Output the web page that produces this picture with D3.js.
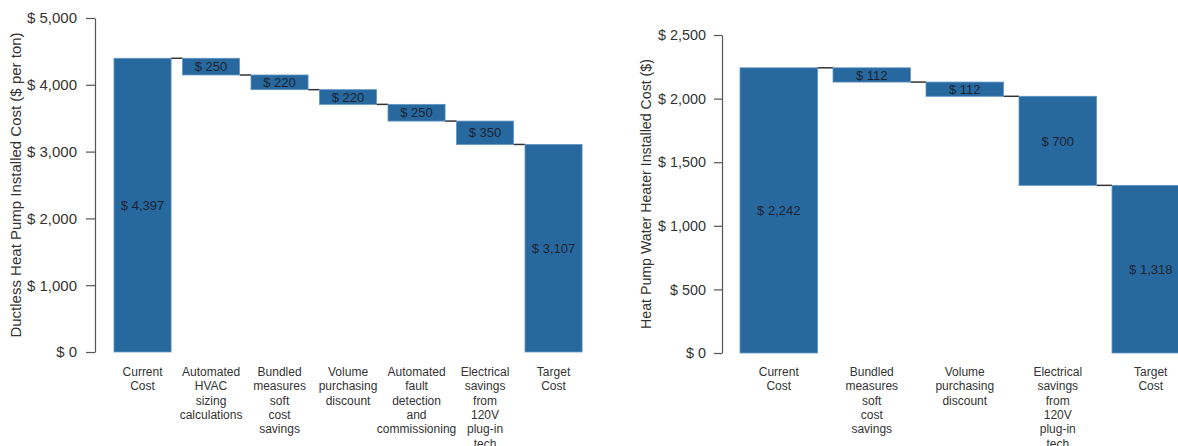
<!DOCTYPE html>
<html>
<head>
<meta charset="utf-8">
<script src="https://cdn.jsdelivr.net/npm/d3@7"></script>
<style>
  html, body { margin: 0; padding: 0; background: #ffffff; }
  svg { display: block; font-family: "Liberation Sans", Arial, Helvetica, sans-serif; }
</style>
</head>
<body>
<svg id="chart" width="1178" height="446"></svg>
<script>
// Ductless heat pump cost waterfall ($ per ton)
const ductlessCategories = [
  ["Current", "Cost"],
  ["Automated", "HVAC", "sizing", "calculations"],
  ["Bundled", "measures", "soft", "cost", "savings"],
  ["Volume", "purchasing", "discount"],
  ["Automated", "fault", "detection", "and", "commissioning"],
  ["Electrical", "savings", "from", "120V", "plug-in", "tech"],
  ["Target", "Cost"]
];
const ductlessValues = [4397, 250, 220, 220, 250, 350, 3107];
const ductlessKinds = ["total", "step", "step", "step", "step", "step", "total"];
const ductlessTicks = [0, 1000, 2000, 3000, 4000, 5000];

// Heat pump water heater cost waterfall ($)
const hpwhCategories = [
  ["Current", "Cost"],
  ["Bundled", "measures", "soft", "cost", "savings"],
  ["Volume", "purchasing", "discount"],
  ["Electrical", "savings", "from", "120V", "plug-in", "tech"],
  ["Target", "Cost"]
];
const hpwhValues = [2242, 112, 112, 700, 1318];
const hpwhKinds = ["total", "step", "step", "step", "total"];
const hpwhTicks = [0, 500, 1000, 1500, 2000, 2500];

const BAR = "#27699f";
const BAR_EDGE = "#5f95c4";
const money = d => "$ " + d3.format(",")(d);

function waterfall(svg, cfg) {
  const g = svg.append("g");
  const y = d3.scaleLinear().domain(cfg.domain).range([cfg.yBottom, cfg.yTop]);
  const x = d3.scaleBand()
    .domain(d3.range(cfg.values.length))
    .range([cfg.xStart, cfg.xStart + cfg.step * (cfg.values.length - 1 / 6)])
    .paddingInner(1 / 6)
    .paddingOuter(0);

  // running levels: each step removes its value from the previous level
  let level = 0;
  const bars = cfg.values.map((v, i) => {
    if (cfg.kinds[i] === "total") {
      level = v;
      return { i, v, top: v, bottom: 0 };
    }
    const top = level;
    level = level - v;
    return { i, v, top, bottom: level };
  });

  // connector lines between consecutive bars
  g.append("g").selectAll("line")
    .data(bars.slice(0, -1))
    .join("line")
    .attr("x1", d => x(d.i) + x.bandwidth())
    .attr("x2", d => x(d.i + 1))
    .attr("y1", d => y(cfg.kinds[d.i] === "total" ? d.top : d.bottom))
    .attr("y2", d => y(cfg.kinds[d.i] === "total" ? d.top : d.bottom))
    .attr("stroke", "#333")
    .attr("stroke-width", 1.5);

  g.append("g").selectAll("rect")
    .data(bars)
    .join("rect")
    .attr("x", d => x(d.i))
    .attr("width", x.bandwidth())
    .attr("y", d => y(d.top))
    .attr("height", d => y(d.bottom) - y(d.top))
    .attr("fill", BAR)
    .attr("stroke", BAR_EDGE)
    .attr("stroke-width", 0.8);

  g.append("g").selectAll("text")
    .data(bars)
    .join("text")
    .attr("x", d => x(d.i) + x.bandwidth() / 2)
    .attr("y", d => (y(d.top) + y(d.bottom)) / 2)
    .attr("dy", "0.36em")
    .attr("text-anchor", "middle")
    .attr("font-size", 13)
    .attr("fill", "#1b2330")
    .text(d => money(d.v));

  // y axis
  const axis = g.append("g")
    .attr("transform", `translate(${cfg.axisX},0)`)
    .call(d3.axisLeft(y).tickValues(cfg.ticks).tickFormat(money)
      .tickSize(cfg.tickLen).tickSizeOuter(0).tickPadding(cfg.tickPad));
  axis.select(".domain").attr("stroke", "#555").attr("stroke-width", 1.2);
  axis.selectAll(".tick line").attr("stroke", "#555").attr("stroke-width", 1.2);
  axis.selectAll(".tick text")
    .attr("font-size", cfg.tickFont)
    .attr("fill", "#333")
    .attr("font-family", "'Liberation Sans', Arial, sans-serif");

  g.append("text")
    .attr("transform", `translate(${cfg.titleX},${cfg.titleY}) rotate(-90)`)
    .attr("text-anchor", "middle")
    .attr("font-size", cfg.titleFont)
    .attr("fill", "#333")
    .text(cfg.title);

  // category labels, one tspan per line
  const cats = g.append("g").selectAll("text")
    .data(cfg.categories)
    .join("text")
    .attr("text-anchor", "middle")
    .attr("font-size", 12)
    .attr("fill", "#333")
    .attr("transform", (d, i) => `translate(${x(i) + x.bandwidth() / 2},${cfg.labelY})`);
  cats.selectAll("tspan")
    .data(d => d)
    .join("tspan")
    .attr("x", 0)
    .attr("y", (d, j) => j * 14.3)
    .text(d => d);
}

const svg = d3.select("#chart");

waterfall(svg, {
  categories: ductlessCategories,
  values: ductlessValues,
  kinds: ductlessKinds,
  ticks: ductlessTicks,
  domain: [0, 5000],
  yBottom: 352, yTop: 18,
  xStart: 114, step: 68.5,
  axisX: 95, tickLen: 9, tickPad: 9, tickFont: 15,
  titleX: 21, titleY: 185, titleFont: 15, labelY: 376,
  title: "Ductless Heat Pump Installed Cost ($ per ton)"
});

waterfall(svg, {
  categories: hpwhCategories,
  values: hpwhValues,
  kinds: hpwhKinds,
  ticks: hpwhTicks,
  domain: [0, 2500],
  yBottom: 353, yTop: 35,
  xStart: 740, step: 93,
  axisX: 722, tickLen: 8, tickPad: 8, tickFont: 14.4,
  titleX: 651, titleY: 194, titleFont: 14.2, labelY: 376,
  title: "Heat Pump Water Heater Installed Cost ($)"
});
</script>
</body>
</html>
